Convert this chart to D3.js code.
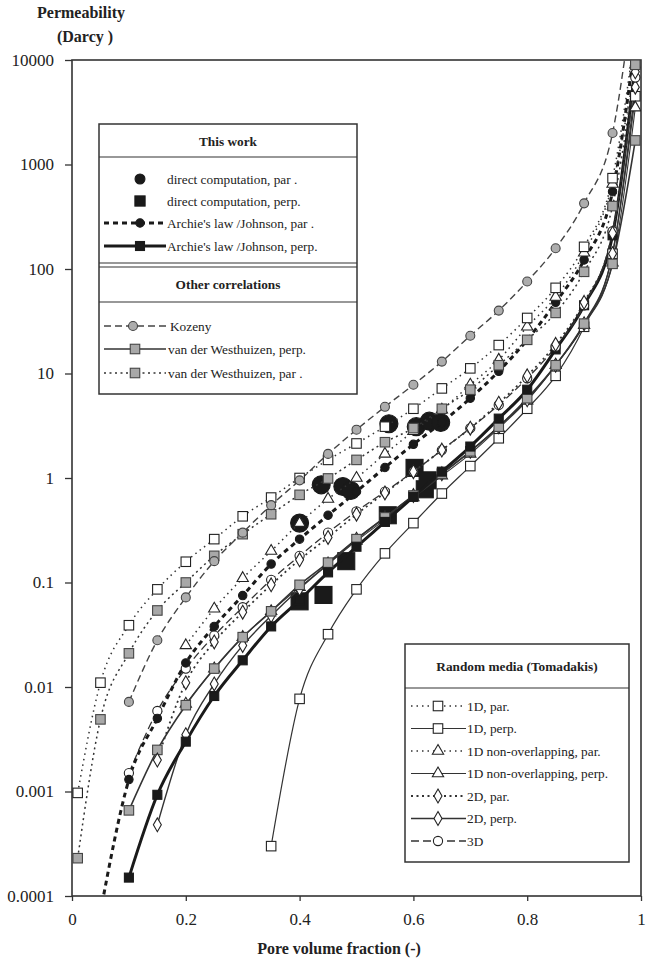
<!DOCTYPE html>
<html><head><meta charset="utf-8">
<script src="https://cdn.jsdelivr.net/npm/d3@7"></script>
<style>body{margin:0;background:#fff}svg{display:block}text{font-family:"Liberation Serif","Times New Roman",serif;fill:#222}</style>
</head><body><div id="chart"></div>
<script>
// ---------------- DATA ----------------
const poreFraction = [0.01,0.05,0.10,0.15,0.20,0.25,0.30,0.35,0.40,0.45,0.50,0.55,0.60,0.65,0.70,0.75,0.80,0.85,0.90,0.95,0.99];
const yTickValues = [1e-4,1e-3,1e-2,1e-1,1,10,100,1000,10000];
const yTickLabels = ["0.0001","0.001","0.01","0.1","1","10","100","1000","10000"];
const xTickValues = [0,0.2,0.4,0.6,0.8,1];
const xTickLabels = ["0","0.2","0.4","0.6","0.8","1"];

const tom1DPar    = [0.00097,0.011,0.039,0.086,0.158,0.26,0.43,0.65,1.0,1.49,2.14,3.1,4.6,7.2,11.2,18.7,34,66,163,740,19000];
const tom1DPerp   = [null,null,null,null,null,null,null,0.0003,0.0077,0.032,0.086,0.19,0.37,0.71,1.3,2.4,4.6,9.5,28,140,4500];
const tom1DNoPar  = [null,null,null,null,0.025,0.056,0.11,0.20,0.37,0.63,1.0,1.7,2.8,4.5,7.8,13.5,28,54,143,650,9000];
const tom1DNoPerp = [null,null,null,null,0.0069,0.015,0.030,0.053,0.09,0.15,0.25,0.40,0.65,1.05,1.7,3.0,5.5,12,29,115,3500];
const tom2DPar    = [null,null,null,0.002,0.011,0.027,0.052,0.095,0.165,0.27,0.45,0.72,1.15,1.85,3.0,5.2,9.5,19,48,220,7700];
const tom2DPerp   = [null,null,null,0.00048,0.0035,0.0107,0.025,0.048,0.087,0.15,0.26,0.42,0.68,1.1,1.8,3.1,5.6,12,30,140,5500];
const tom3D       = [null,null,0.0015,0.0059,0.015,0.031,0.058,0.106,0.18,0.30,0.48,0.74,1.15,1.85,3.0,5.0,9.0,18,45,230,6800];
const kozeny      = [null,null,0.0072,0.028,0.072,0.16,0.30,0.55,0.95,1.7,2.9,4.8,7.8,13,23,40,76,158,425,2000,60000];
const vdwPerp     = [null,null,0.00066,0.0025,0.0067,0.015,0.030,0.053,0.095,0.155,0.26,0.42,0.68,1.1,1.8,3.1,5.8,12,30,112,1700];
const vdwPar      = [0.00023,0.0049,0.021,0.054,0.10,0.18,0.29,0.45,0.69,0.99,1.49,2.2,3.0,4.6,7.0,12,21,38,94,400,9000];
const archiePar   = [null,0.00007,0.0013,0.005,0.017,0.038,0.075,0.15,0.26,0.44,0.74,1.26,2.1,3.4,5.8,10.5,21,48,122,550,15000];
const archiePerp  = [null,null,0.00015,0.00093,0.003,0.0082,0.018,0.038,0.068,0.125,0.22,0.38,0.66,1.15,2.0,3.7,7,17,45,210,9000];

const directParX  = [0.40,0.438,0.476,0.49,0.557,0.605,0.628,0.648];
const directParK  = [0.37,0.86,0.83,0.76,3.3,3.1,3.5,3.4];
const directPerpX = [0.40,0.442,0.482,0.555,0.602,0.62,0.625];
const directPerpK = [0.066,0.076,0.16,0.44,1.25,0.78,0.95];

// ---------------- STYLES ----------------
const S = {
  dirPar:   {marker:"circle", fill:"#1a1a1a", stroke:"#1a1a1a", size:9, line:null},
  dirPerp:  {marker:"square", fill:"#1a1a1a", stroke:"#1a1a1a", size:17, line:null},
  archPar:  {marker:"circle", fill:"#1a1a1a", stroke:"#1a1a1a", size:4.2, line:{w:3, dash:"5,4", c:"#1a1a1a"}},
  archPerp: {marker:"square", fill:"#1a1a1a", stroke:"#1a1a1a", size:9, line:{w:3, dash:null, c:"#1a1a1a"}},
  kozeny:   {marker:"circle", fill:"#adadad", stroke:"#444", size:4.5, line:{w:1.4, dash:"7,4", c:"#444"}},
  vdwPerp:  {marker:"square", fill:"#a8a8a8", stroke:"#444", size:9.5, line:{w:1.6, dash:null, c:"#333"}},
  vdwPar:   {marker:"square", fill:"#a8a8a8", stroke:"#444", size:9.5, line:{w:1.5, dash:"2,3.5", c:"#333"}},
  t1Par:    {marker:"square", fill:"#fff", stroke:"#222", size:9.5, line:{w:1.5, dash:"1.5,4", c:"#333"}},
  t1Perp:   {marker:"square", fill:"#fff", stroke:"#222", size:9.5, line:{w:1.2, dash:null, c:"#333"}},
  t1NoPar:  {marker:"triangle", fill:"#fff", stroke:"#222", size:55, line:{w:1.5, dash:"1.5,4", c:"#333"}},
  t1NoPerp: {marker:"triangle", fill:"#fff", stroke:"#222", size:55, line:{w:1.1, dash:null, c:"#333"}},
  t2Par:    {marker:"diamond", fill:"#fff", stroke:"#222", size:55, line:{w:1.8, dash:"2,3.5", c:"#333"}},
  t2Perp:   {marker:"diamond", fill:"#fff", stroke:"#222", size:55, line:{w:1.4, dash:null, c:"#333"}},
  t3D:      {marker:"circle", fill:"#fff", stroke:"#222", size:4.6, line:{w:1.3, dash:"8,4", c:"#333"}}
};

const W = 658, H = 966;
const L = 72, R = 641, T = 60, B = 896;
const x = d3.scaleLinear().domain([0,1]).range([L,R]);
const y = d3.scaleLog().domain([1e-4,1e4]).range([B,T]);

const svg = d3.select("#chart").append("svg").attr("width",W).attr("height",H);
svg.append("defs").append("clipPath").attr("id","clip")
  .append("rect").attr("x",L).attr("y",T).attr("width",R-L).attr("height",B-T);

function drawMarker(g, st, cx, cy, scale){
  const s = scale || 1;
  if(st.marker==="circle"){
    g.append("circle").attr("cx",cx).attr("cy",cy).attr("r",st.size*s)
      .attr("fill",st.fill).attr("stroke",st.stroke).attr("stroke-width",1.1);
  } else if(st.marker==="square"){
    const a = st.size*s;
    g.append("rect").attr("x",cx-a/2).attr("y",cy-a/2).attr("width",a).attr("height",a)
      .attr("fill",st.fill).attr("stroke",st.stroke).attr("stroke-width",1.1);
  } else {
    const sym = st.marker==="triangle" ? d3.symbolTriangle : d3.symbolDiamond;
    g.append("path").attr("d",d3.symbol().type(sym).size(st.size*s)())
      .attr("transform",`translate(${cx},${cy})`)
      .attr("fill",st.fill).attr("stroke",st.stroke).attr("stroke-width",1.1);
  }
}

// ---------------- AXES ----------------
const yAxis = d3.axisLeft(y).tickValues(yTickValues).tickFormat((d,i)=>yTickLabels[i]).tickSize(7).tickPadding(11);
const gy = svg.append("g").attr("transform",`translate(${L},0)`).call(yAxis);
const xAxis = d3.axisBottom(x).tickValues(xTickValues).tickFormat((d,i)=>xTickLabels[i]).tickSize(5).tickPadding(12);
const gx = svg.append("g").attr("transform",`translate(0,${B})`).call(xAxis);
[gx,gy].forEach(g=>{
  g.select(".domain").remove();
  g.selectAll("line").attr("stroke","#333").attr("stroke-width",1.3);
  g.selectAll("text").style("font-size","17px").attr("fill","#222");
});
// frame
svg.append("rect").attr("x",L).attr("y",T).attr("width",R-L).attr("height",B-T)
  .attr("fill","none").attr("stroke","#333").attr("stroke-width",1.6);

// titles
svg.append("text").attr("x",81).attr("y",18).attr("text-anchor","middle")
  .style("font-size","16px").style("font-weight","bold").text("Permeability");
svg.append("text").attr("x",85).attr("y",42).attr("text-anchor","middle")
  .style("font-size","16px").style("font-weight","bold").text("(Darcy )");
svg.append("text").attr("x",339).attr("y",954).attr("text-anchor","middle")
  .style("font-size","16px").style("font-weight","bold").text("Pore volume fraction (-)");

// ---------------- SERIES ----------------
const plot = svg.append("g").attr("clip-path","url(#clip)");
const line = d3.line().defined(d=>d.k!=null).x(d=>x(d.p)).y(d=>y(d.k)).curve(d3.curveMonotoneX);

// direct computation (big markers, underneath)
directParX.forEach((p,i)=>drawMarker(plot,S.dirPar,x(p),y(directParK[i])));
directPerpX.forEach((p,i)=>drawMarker(plot,S.dirPerp,x(p),y(directPerpK[i])));

const curveSeries = [
  [tom1DPerp,S.t1Perp],[tom1DNoPerp,S.t1NoPerp],[tom2DPerp,S.t2Perp],[vdwPerp,S.vdwPerp],
  [archiePerp,S.archPerp],[tom3D,S.t3D],[tom2DPar,S.t2Par],[archiePar,S.archPar],
  [tom1DNoPar,S.t1NoPar],[vdwPar,S.vdwPar],[tom1DPar,S.t1Par],[kozeny,S.kozeny]
];
curveSeries.forEach(([vals,st])=>{
  const data = poreFraction.map((p,i)=>({p:p,k:vals[i]}));
  plot.append("path").datum(data).attr("d",line).attr("fill","none")
    .attr("stroke",st.line.c).attr("stroke-width",st.line.w)
    .attr("stroke-dasharray",st.line.dash);
});
curveSeries.forEach(([vals,st])=>{
  poreFraction.forEach((p,i)=>{ if(vals[i]!=null) drawMarker(plot,st,x(p),y(vals[i])); });
});

// ---------------- LEGENDS ----------------
function legendItem(g, st, x1, x2, mx, tx, yy, label){
  if(st.line){
    g.append("line").attr("x1",x1).attr("x2",x2).attr("y1",yy).attr("y2",yy)
      .attr("stroke",st.line.c).attr("stroke-width",st.line.w).attr("stroke-dasharray",st.line.dash);
  }
  const sc = (st===S.dirPar)? 0.55 : (st===S.dirPerp? 0.6 : 1);
  drawMarker(g, st, mx, yy, sc);
  g.append("text").attr("x",tx).attr("y",yy).attr("dy","0.35em").style("font-size","13.3px").text(label);
}
const lg1 = svg.append("g");
lg1.append("rect").attr("x",99).attr("y",124).attr("width",258).attr("height",270)
  .attr("fill","#fff").attr("stroke","#333").attr("stroke-width",1.5);
lg1.append("line").attr("x1",99).attr("x2",357).attr("y1",157).attr("y2",157).attr("stroke","#333").attr("stroke-width",1.2);
lg1.append("line").attr("x1",99).attr("x2",357).attr("y1",263).attr("y2",263).attr("stroke","#333").attr("stroke-width",1.2);
lg1.append("line").attr("x1",99).attr("x2",357).attr("y1",267).attr("y2",267).attr("stroke","#333").attr("stroke-width",1.2);
lg1.append("line").attr("x1",99).attr("x2",357).attr("y1",302).attr("y2",302).attr("stroke","#333").attr("stroke-width",1.2);
lg1.append("text").attr("x",228).attr("y",141).attr("dy","0.35em").attr("text-anchor","middle")
  .style("font-size","13.3px").style("font-weight","bold").text("This work");
lg1.append("text").attr("x",228).attr("y",284).attr("dy","0.35em").attr("text-anchor","middle")
  .style("font-size","13.3px").style("font-weight","bold").text("Other correlations");
legendItem(lg1,S.dirPar,0,0,140,167,179,"direct computation, par .");
legendItem(lg1,S.dirPerp,0,0,140,167,201,"direct computation, perp.");
legendItem(lg1,S.archPar,104,166,140,167,223,"Archie's law /Johnson, par .");
legendItem(lg1,S.archPerp,104,166,140,167,246,"Archie's law /Johnson, perp.");
legendItem(lg1,S.kozeny,104,166,133,170,326,"Kozeny");
legendItem(lg1,S.vdwPerp,104,166,135,168,349,"van der Westhuizen, perp.");
legendItem(lg1,S.vdwPar,104,166,135,168,373,"van der Westhuizen, par .");

const lg2 = svg.append("g");
lg2.append("rect").attr("x",405).attr("y",644).attr("width",224).attr("height",218)
  .attr("fill","#fff").attr("stroke","#333").attr("stroke-width",1.5);
lg2.append("line").attr("x1",405).attr("x2",629).attr("y1",688).attr("y2",688).attr("stroke","#333").attr("stroke-width",1.2);
lg2.append("text").attr("x",517).attr("y",666).attr("dy","0.35em").attr("text-anchor","middle")
  .style("font-size","13.3px").style("font-weight","bold").text("Random media (Tomadakis)");
const lg2Items = [
  [S.t1Par,"1D, par."],[S.t1Perp,"1D, perp."],[S.t1NoPar,"1D non-overlapping, par."],
  [S.t1NoPerp,"1D non-overlapping, perp."],[S.t2Par,"2D, par."],[S.t2Perp,"2D, perp."],[S.t3D,"3D"]
];
lg2Items.forEach(([st,lab],i)=>legendItem(lg2,st,411,466,438,467,706+i*22.5,lab));
</script></body></html>
